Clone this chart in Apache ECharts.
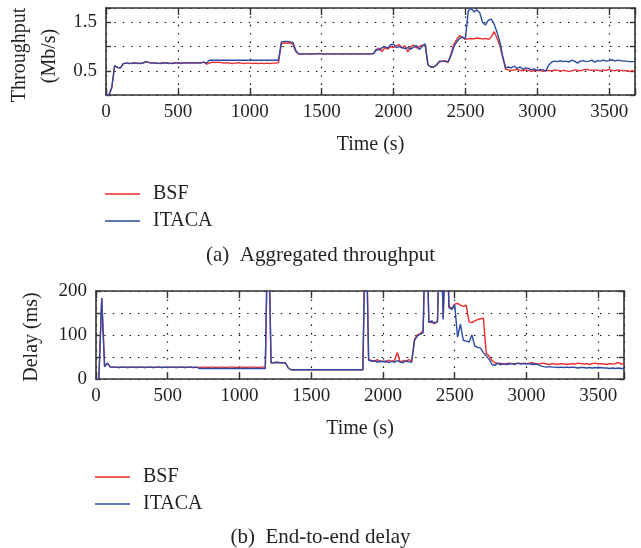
<!DOCTYPE html>
<html><head><meta charset="utf-8">
<script src="https://cdn.jsdelivr.net/npm/echarts@6/dist/echarts.min.js"></script>
<style>html,body{margin:0;padding:0;background:#fff}#c{width:641px;height:548px}</style>
</head><body><div id="c"></div>
<script>
// Sampling step (s) of the time series below; value i is at time i*timeStep
const timeStep = 20;
const xTickLabels = ['0','500','1000','1500','2000','2500','3000','3500'];
const thrTickLabels = ['0.5','1.5'];
const delayTickLabels = ['0','100','200'];
const seriesNames = ['BSF','ITACA'];

// Aggregated throughput (Mb/s)
const thrBSF = [
 0,0,0.15,0.60,0.57,0.56,0.65,0.66,0.65,0.66,
 0.67,0.65,0.66,0.66,0.69,0.67,0.66,0.67,0.65,0.66,
 0.67,0.66,0.65,0.66,0.67,0.66,0.65,0.67,0.66,0.67,
 0.66,0.67,0.66,0.67,0.68,0.64,0.66,0.68,0.67,0.68,
 0.67,0.66,0.67,0.66,0.65,0.66,0.67,0.66,0.65,0.66,
 0.66,0.65,0.66,0.65,0.66,0.65,0.66,0.65,0.66,0.66,
 0.67,1.06,1.08,1.07,1.08,1.05,0.90,0.85,0.84,0.85,
 0.85,0.84,0.85,0.85,0.86,0.85,0.84,0.85,0.85,0.84,
 0.85,0.85,0.84,0.85,0.85,0.84,0.85,0.85,0.84,0.85,
 0.85,0.84,0.85,0.86,0.92,0.97,0.90,0.98,0.95,1.00,
 0.98,1.02,1.04,0.97,1.02,0.89,1.00,1.03,0.97,1.00,
 1.03,1.02,0.62,0.58,0.58,0.63,0.68,0.70,0.71,0.67,
 0.85,1.05,1.15,1.23,1.19,1.15,1.16,1.17,1.16,1.18,
 1.17,1.16,1.17,1.15,1.20,1.31,1.18,1.02,0.78,0.53,
 0.52,0.51,0.52,0.53,0.51,0.50,0.52,0.51,0.49,0.51,
 0.50,0.51,0.49,0.50,0.51,0.50,0.52,0.51,0.50,0.51,
 0.50,0.49,0.50,0.52,0.51,0.50,0.52,0.53,0.52,0.51,
 0.52,0.51,0.50,0.52,0.51,0.53,0.51,0.50,0.52,0.51,
 0.50,0.51,0.49,0.50,0.50
];
const thrITACA = [
 0,0,0.15,0.61,0.57,0.56,0.65,0.66,0.66,0.65,
 0.66,0.66,0.65,0.67,0.69,0.67,0.66,0.66,0.66,0.65,
 0.66,0.67,0.66,0.65,0.66,0.67,0.66,0.66,0.67,0.66,
 0.67,0.66,0.67,0.66,0.68,0.66,0.72,0.72,0.72,0.72,
 0.72,0.72,0.72,0.72,0.72,0.72,0.72,0.72,0.72,0.72,
 0.72,0.72,0.72,0.72,0.72,0.72,0.72,0.72,0.72,0.72,
 0.72,1.10,1.11,1.11,1.10,1.09,0.92,0.85,0.85,0.85,
 0.85,0.85,0.85,0.85,0.85,0.85,0.85,0.85,0.85,0.85,
 0.85,0.85,0.85,0.85,0.85,0.85,0.85,0.85,0.85,0.85,
 0.85,0.85,0.85,0.85,0.95,0.93,0.98,1.00,0.97,1.04,
 1.05,0.98,1.00,0.98,0.96,0.98,0.95,0.99,1.02,0.94,
 1.01,1.06,0.62,0.58,0.58,0.62,0.70,0.70,0.69,0.69,
 0.82,1.00,1.10,1.17,1.20,1.16,1.74,1.79,1.72,1.76,
 1.70,1.50,1.45,1.55,1.57,1.47,1.30,1.10,0.80,0.56,
 0.58,0.56,0.60,0.55,0.58,0.53,0.56,0.55,0.52,0.54,
 0.51,0.53,0.52,0.50,0.62,0.68,0.70,0.69,0.71,0.69,
 0.70,0.68,0.72,0.70,0.66,0.70,0.71,0.69,0.70,0.72,
 0.68,0.71,0.70,0.72,0.70,0.71,0.73,0.70,0.72,0.71,
 0.70,0.70,0.69,0.69,0.69
];

// End-to-end delay (ms); values above 200 run off the top of the plot
const delayBSF = [
 0,0,184,28,36,27,27,27,26,27,
 27,26,27,27,26,27,27,26,27,27,
 26,27,27,26,27,26,27,27,26,27,
 27,26,27,27,26,27,26,27,27,26,
 27,27,26,27,27,26,27,27,27,26,
 27,27,26,27,27,27,26,27,27,27,
 400,37,37,38,37,37,37,25,21,21,
 21,21,21,21,21,21,21,21,21,21,
 21,21,21,21,21,21,21,21,21,21,
 21,21,21,21,400,45,42,40,44,39,
 41,38,43,40,42,60,38,42,40,44,
 40,90,100,103,110,400,130,128,126,132,
 400,140,400,165,160,170,172,168,165,168,
 130,128,132,135,137,138,58,52,42,37,
 35,36,34,35,36,35,34,36,35,36,
 35,36,37,35,34,35,36,34,33,35,
 34,33,35,34,33,34,35,34,36,35,
 34,35,33,35,36,34,35,34,33,35,
 34,35,38,34,35
];
const delayITACA = [
 0,0,184,28,36,27,27,27,26,27,
 27,26,27,27,26,27,27,26,27,27,
 26,27,27,26,27,26,27,27,26,27,
 27,26,27,27,26,27,24,24,24,24,
 24,24,24,24,24,24,24,24,24,24,
 24,24,24,24,24,24,24,24,24,24,
 400,37,37,38,37,37,37,25,21,21,
 21,21,21,21,21,21,21,21,21,21,
 21,21,21,21,21,21,21,21,21,21,
 21,21,21,21,400,43,40,42,38,41,
 39,41,37,40,38,42,39,37,41,39,
 38,88,98,102,105,400,128,132,127,130,
 400,135,400,162,158,169,95,125,88,86,
 84,100,75,72,70,60,52,45,33,31,
 36,32,35,33,34,35,33,36,34,35,
 34,35,33,34,33,30,28,27,28,27,
 27,26,27,26,27,26,27,26,25,26,
 26,25,26,25,26,25,26,25,25,24,
 25,24,25,24,24
];

const FONT = 'Liberation Serif';
const TXT = '#231f20';
const AX = '#333';
const RED = '#ee2a2a';
const BLUE = '#2b4aa3';

const times = thrBSF.map((_, i) => i * timeStep);
const pairs = arr => arr.map((v, i) => [times[i], v]);

function xAx(grid) {
  return {
    gridIndex: grid, type: 'value', min: 0, max: 3680, interval: 500,
    axisLine: { show: true, onZero: false, lineStyle: { color: AX, width: 1.6 } },
    axisTick: { show: true, inside: true, length: 7, lineStyle: { color: AX, width: 1.4 } },
    axisLabel: { margin: 8, fontFamily: FONT, fontSize: 19, color: TXT,
      formatter: v => xTickLabels.includes(String(v)) ? String(v) : '' },
    splitLine: { show: true, lineStyle: { type: [1.4, 7], color: '#000', width: 1.2 } },
    name: 'Time (s)', nameLocation: 'middle', nameGap: 40,
    nameTextStyle: { fontFamily: FONT, fontSize: 20, color: TXT }
  };
}
function xAxTop(grid) {
  return {
    gridIndex: grid, type: 'value', position: 'top', min: 0, max: 3680, interval: 500,
    axisLine: { show: true, onZero: false, lineStyle: { color: AX, width: 1.6 } },
    axisTick: { show: true, inside: true, length: 7, lineStyle: { color: AX, width: 1.4 } },
    axisLabel: { show: false }, splitLine: { show: false }
  };
}
function yAx(grid, max, interval, labels) {
  return {
    gridIndex: grid, type: 'value', min: 0, max: max, interval: interval,
    axisLine: { show: true, onZero: false, lineStyle: { color: AX, width: 1.6 } },
    axisTick: { show: true, inside: true, length: 5, lineStyle: { color: AX, width: 1.4 } },
    axisLabel: { margin: 9, fontFamily: FONT, fontSize: 19, color: TXT,
      formatter: v => labels.includes(String(v)) ? String(v) : '' },
    splitLine: { show: true, lineStyle: { type: [1.4, 7], color: '#000', width: 1.2 } }
  };
}
function yAxRight(grid, max, interval) {
  return {
    gridIndex: grid, type: 'value', position: 'right', min: 0, max: max, interval: interval,
    axisLine: { show: true, onZero: false, lineStyle: { color: AX, width: 1.6 } },
    axisTick: { show: true, inside: true, length: 5, lineStyle: { color: AX, width: 1.4 } },
    axisLabel: { show: false }, splitLine: { show: false }
  };
}
function line(name, color, x, y, data) {
  return {
    name: name, type: 'line', xAxisIndex: x, yAxisIndex: y, data: pairs(data),
    symbol: 'none', showSymbol: false, clip: true,
    lineStyle: { color: color, width: 1.4 }, itemStyle: { color: color }
  };
}
const legendStyle = {
  orient: 'vertical', icon: 'rect', itemWidth: 35, itemHeight: 1.6, itemGap: 7,
  padding: 0, selectedMode: false,
  textStyle: { fontFamily: FONT, fontSize: 20, color: TXT, padding: [0, 0, 0, 8] },
  data: seriesNames
};

const chart = echarts.init(document.getElementById('c'), null, { renderer: 'canvas' });
chart.setOption({
  animation: false,
  backgroundColor: '#fff',
  grid: [
    { left: 106, top: 8, width: 529, height: 87 },
    { left: 96, top: 291, width: 528, height: 88 }
  ],
  xAxis: [xAx(0), xAxTop(0), xAx(1), xAxTop(1)],
  yAxis: [yAx(0, 1.8, 0.5, thrTickLabels), yAxRight(0, 1.8, 0.5),
          yAx(1, 200, 50, delayTickLabels), yAxRight(1, 200, 50)],
  series: [
    line(seriesNames[0], RED, 0, 0, thrBSF),
    line(seriesNames[1], BLUE, 0, 0, thrITACA),
    line(seriesNames[0], RED, 2, 2, delayBSF),
    line(seriesNames[1], BLUE, 2, 2, delayITACA)
  ],
  legend: [
    Object.assign({ left: 105, top: 184 }, legendStyle),
    Object.assign({ left: 95, top: 467 }, legendStyle)
  ],
  title: [
    { text: '(a)  Aggregated throughput', left: 'center', top: 245, padding: 0,
      textStyle: { fontFamily: FONT, fontSize: 21, fontWeight: 'normal', color: TXT } },
    { text: '(b)  End-to-end delay', left: 'center', top: 527, padding: 0,
      textStyle: { fontFamily: FONT, fontSize: 21, fontWeight: 'normal', color: TXT } }
  ],
  graphic: [
    { type: 'text', x: 20, y: 55, rotation: Math.PI / 2,
      style: { text: 'Throughput', fontFamily: FONT, fontSize: 20, fill: TXT, align: 'center', verticalAlign: 'middle' } },
    { type: 'text', x: 50, y: 56, rotation: Math.PI / 2,
      style: { text: '(Mb/s)', fontFamily: FONT, fontSize: 20, fill: TXT, align: 'center', verticalAlign: 'middle' } },
    { type: 'text', x: 32, y: 337, rotation: Math.PI / 2,
      style: { text: 'Delay (ms)', fontFamily: FONT, fontSize: 20, fill: TXT, align: 'center', verticalAlign: 'middle' } }
  ]
});
</script></body></html>
